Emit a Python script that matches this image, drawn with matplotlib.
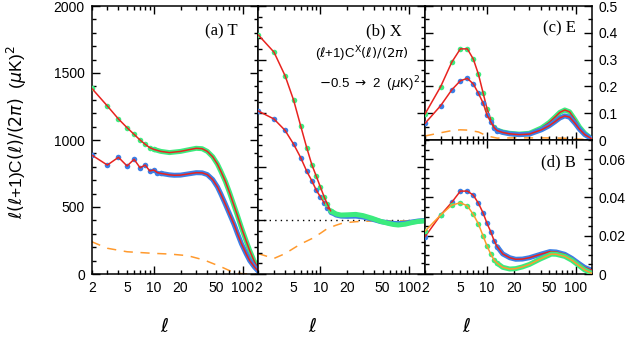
import numpy as np
import matplotlib.pyplot as plt
from matplotlib.ticker import FixedLocator, MultipleLocator, FuncFormatter, NullFormatter

plt.rcParams['font.family'] = ['Liberation Sans', 'DejaVu Sans']
plt.rcParams['mathtext.fontset'] = 'dejavusans'

# colours
GREEN = '#3ceb7e'
BLUE = '#3b7fe6'
RED = '#e8231f'
ORANGE = '#ff9a2e'

# ---------------- (a) T  [uK^2] ----------------
T_in_ell = [2, 3, 4, 5, 6, 7, 8, 9, 10]
T_in = [1386, 1254, 1157, 1092, 1042, 1000, 968, 943, 930]
T_in_band_ell = [10, 12, 15, 20, 25, 30, 35, 40, 46, 52, 57, 64, 71, 80, 87, 97, 109, 120, 135, 150]
T_in_band = [930, 915, 906, 915, 928, 938, 935, 915, 875, 820, 765, 690, 610, 510, 440, 345, 250, 175, 95, 40]

T_out_ell = [2, 3, 4, 5, 6, 7, 8, 9, 10, 11, 12]
T_out = [888, 813, 871, 806, 856, 793, 813, 769, 776, 756, 751]
T_out_band_ell = [12, 15, 17, 20, 25, 30, 35, 40, 46, 52, 57, 64, 71, 80, 87, 97, 109, 120, 135, 150]
T_out_band = [751, 740, 737, 738, 748, 756, 755, 742, 705, 650, 595, 520, 450, 370, 305, 225, 154, 100, 54, 20]

T_noise_ell = [2, 3, 5, 10, 15, 24, 37, 57, 80, 100, 150]
T_noise = [241, 192, 166, 154, 149, 137, 104, 54, 10, 2, 0]

# ---------------- (b) X  [uK^2] ----------------
X_ell = [2, 3, 4, 5, 6, 7, 8, 9, 10, 11, 12, 13]
X_in = [1.73, 1.57, 1.35, 1.12, 0.88, 0.68, 0.52, 0.41, 0.31, 0.22, 0.15, 0.09]
X_out = [1.02, 0.946, 0.84, 0.71, 0.585, 0.46, 0.37, 0.28, 0.22, 0.165, 0.12, 0.08]
X_band_ell = [13, 15, 17, 20, 25, 30, 38, 48, 58, 66, 75, 90, 106, 125, 150]
X_in_band = [0.09, 0.06, 0.05, 0.052, 0.056, 0.045, 0.02, -0.01, -0.028, -0.038, -0.043, -0.035, -0.021, -0.01, -0.005]
X_out_band = [0.08, 0.05, 0.04, 0.038, 0.04, 0.032, 0.012, -0.012, -0.022, -0.028, -0.03, -0.025, -0.015, -0.006, 0.0]

X_noise_ell = [2, 3, 4, 5, 6, 8, 10, 12, 15, 17, 20, 25, 40, 70, 100, 150]
X_noise = [-0.31, -0.355, -0.31, -0.26, -0.22, -0.17, -0.12, -0.075, -0.045, -0.03, -0.02, -0.012, -0.005, -0.005, -0.003, 0.0]

# ---------------- (c) E  [uK^2] ----------------
E_ell = [2, 3, 4, 5, 6, 7, 8, 9, 10, 11, 12, 13]
E_in = [0.097, 0.199, 0.29, 0.34, 0.34, 0.302, 0.245, 0.177, 0.116, 0.077, 0.05, 0.037]
E_out = [0.062, 0.128, 0.187, 0.221, 0.23, 0.209, 0.174, 0.139, 0.093, 0.068, 0.046, 0.035]
E_band_ell = [13, 15, 18, 23, 30, 41, 50, 58, 66, 75, 85, 98, 110, 126, 150]
E_in_band = [0.037, 0.03, 0.025, 0.022, 0.025, 0.045, 0.065, 0.085, 0.103, 0.112, 0.105, 0.075, 0.048, 0.025, 0.005]
E_out_band = [0.035, 0.028, 0.023, 0.02, 0.022, 0.038, 0.053, 0.068, 0.082, 0.09, 0.085, 0.062, 0.04, 0.02, 0.005]

E_noise_ell = [2, 3, 4, 5, 6, 8, 10, 13, 20, 40, 70, 100, 150]
E_noise = [0.015, 0.027, 0.035, 0.038, 0.037, 0.03, 0.015, 0.007, 0.008, 0.008, 0.007, 0.004, 0.001]

# ---------------- (d) B  [uK^2] ----------------
B_ell = [2, 3, 4, 5, 6, 7, 8, 9, 10, 11, 12, 13]
B_out = [0.0195, 0.0308, 0.0374, 0.0433, 0.0433, 0.0412, 0.0369, 0.032, 0.0264, 0.0221, 0.0174, 0.0143]
B_in = [0.0224, 0.0308, 0.036, 0.0372, 0.0356, 0.0311, 0.0261, 0.02, 0.0146, 0.0104, 0.0073, 0.0056]
B_out_band_ell = [13, 15, 18, 21, 25, 30, 40, 51, 60, 75, 90, 106, 125, 150]
B_out_band = [0.0143, 0.0105, 0.0085, 0.0077, 0.0078, 0.0085, 0.0103, 0.0117, 0.0115, 0.0103, 0.0082, 0.0058, 0.0035, 0.002]
B_in_band_ell = [13, 15, 18, 21, 25, 30, 40, 53, 60, 75, 90, 106, 125, 150]
B_in_band = [0.0056, 0.0035, 0.0026, 0.0028, 0.0037, 0.005, 0.0079, 0.0104, 0.0103, 0.0092, 0.0072, 0.0047, 0.0022, 0.0004]

xlabel_vals = [2, 5, 20, 50]


def draw(ax, ell_lo, v_lo, ell_hi, v_hi, color, line_color, z=2, line_full=True):
    # dense points at high l look like a thick band
    ax.plot(ell_hi, v_hi, color=color, lw=3.6, solid_capstyle='round',
            solid_joinstyle='round', zorder=z)
    ax.plot(ell_lo, v_lo, 'o', color=color, ms=4, mec='none', zorder=z + 1)
    if line_full:
        ax.plot(list(ell_lo) + list(ell_hi[1:]), list(v_lo) + list(v_hi[1:]),
                color=line_color, lw=1.1, zorder=z + 2)
    else:
        ax.plot(ell_lo, v_lo, color=line_color, lw=1.1, zorder=z + 2)


def setup(ax, ylim, ymaj, ymin, side=None, xlabels=True):
    ax.set_xscale('log')
    ax.set_xlim(2, 150)
    ax.set_ylim(*ylim)
    ax.xaxis.set_major_locator(FixedLocator([10, 100]))
    ax.xaxis.set_minor_locator(FixedLocator([2, 3, 4, 5, 6, 7, 8, 9, 20, 30, 40, 50, 60, 70, 80, 90]))
    if xlabels:
        ax.xaxis.set_major_formatter(FuncFormatter(lambda v, p: '%d' % round(v)))
        ax.xaxis.set_minor_formatter(FuncFormatter(
            lambda v, p: '%d' % round(v) if round(v) in xlabel_vals else ''))
    else:
        ax.xaxis.set_major_formatter(NullFormatter())
        ax.xaxis.set_minor_formatter(NullFormatter())
    ax.yaxis.set_major_locator(MultipleLocator(ymaj))
    ax.yaxis.set_minor_locator(MultipleLocator(ymin))
    ax.yaxis.set_major_formatter(FuncFormatter(lambda v, p: '%g' % round(v, 4)))
    ax.tick_params(which='both', direction='in', top=True, bottom=True, left=True, right=True,
                   labelsize=10, width=1, pad=5)
    ax.tick_params(which='major', length=6)
    ax.tick_params(which='minor', length=3)
    ax.tick_params(axis='y', labelleft=(side == 'left'), labelright=(side == 'right'))
    for s in ax.spines.values():
        s.set_linewidth(1.1)


W, H = 628, 337
fig = plt.figure(figsize=(W / 100, H / 100), dpi=100)


def box(x0, y0, x1, y1):
    # pixel box (top-left origin) -> figure fraction
    return [x0 / W, 1 - y1 / H, (x1 - x0) / W, (y1 - y0) / H]


ax_a = fig.add_axes(box(91.7, 6, 258.3, 274))
ax_b = fig.add_axes(box(258.3, 6, 425, 274))
ax_c = fig.add_axes(box(425, 6, 591.5, 140))
ax_d = fig.add_axes(box(425, 140, 591.5, 274))

# (a) T
setup(ax_a, (0, 2000), 500, 100, side='left')
ax_a.plot(T_noise_ell, T_noise, color=ORANGE, lw=1.1, ls=(0, (6, 5)), zorder=1)
draw(ax_a, T_in_ell, T_in, T_in_band_ell, T_in_band, GREEN, RED, z=2)
draw(ax_a, T_out_ell, T_out, T_out_band_ell, T_out_band, BLUE, RED, z=5)
ax_a.text(0.875, 0.905, '(a) T', transform=ax_a.transAxes, ha='right', va='center',
          family='Liberation Serif', fontsize=12)
ax_a.set_ylabel(r'$\ell(\ell$+1)C$(\ell)/(2\pi)$  ($\mu$K)$^2$', fontsize=12.5)
ax_a.yaxis.set_label_coords(-0.375, 0.53)

# (b) X
setup(ax_b, (-0.5, 2.0), 0.5, 0.1)
ax_b.axhline(0, color='black', lw=1, ls=(0, (1, 3)), zorder=1)
ax_b.plot(X_noise_ell, X_noise, color=ORANGE, lw=1.1, ls=(0, (6, 5)), zorder=1)
draw(ax_b, X_ell, X_out, X_band_ell, X_out_band, BLUE, RED, z=2, line_full=False)
draw(ax_b, X_ell, X_in, X_band_ell, X_in_band, GREEN, RED, z=5, line_full=False)
ax_b.text(0.862, 0.905, '(b) X', transform=ax_b.transAxes, ha='right', va='center',
          family='Liberation Serif', fontsize=12)
ax_b.text(0.62, 0.82, r'($\ell$+1)C$^{\rm X}(\ell)/(2\pi)$', transform=ax_b.transAxes,
          ha='center', va='center', fontsize=9.5)
ax_b.text(0.67, 0.71, r'$-$0.5 $\rightarrow$ 2  ($\mu$K)$^2$', transform=ax_b.transAxes,
          ha='center', va='center', fontsize=9.5)

# (c) E
setup(ax_c, (0, 0.5), 0.1, 0.05, side='right', xlabels=False)
ax_c.plot(E_noise_ell, E_noise, color=ORANGE, lw=1.1, ls=(0, (6, 5)), zorder=1)
draw(ax_c, E_ell, E_in, E_band_ell, E_in_band, GREEN, RED, z=2)
draw(ax_c, E_ell, E_out, E_band_ell, E_out_band, BLUE, RED, z=5)
ax_c.text(0.905, 0.83, '(c) E', transform=ax_c.transAxes, ha='right', va='center',
          family='Liberation Serif', fontsize=12)

# (d) B
setup(ax_d, (0, 0.07), 0.02, 0.005, side='right')
draw(ax_d, B_ell, B_out, B_out_band_ell, B_out_band, BLUE, RED, z=2)
draw(ax_d, B_ell, B_in, B_in_band_ell, B_in_band, GREEN, ORANGE, z=5)
ax_d.text(0.905, 0.83, '(d) B', transform=ax_d.transAxes, ha='right', va='center',
          family='Liberation Serif', fontsize=12)

# l below each column
for xp in (165, 313, 467):
    fig.text(xp / W, 1 - 326 / H, r'$\ell$', ha='center', va='center', fontsize=14)

fig.savefig('out.png', dpi=100)
